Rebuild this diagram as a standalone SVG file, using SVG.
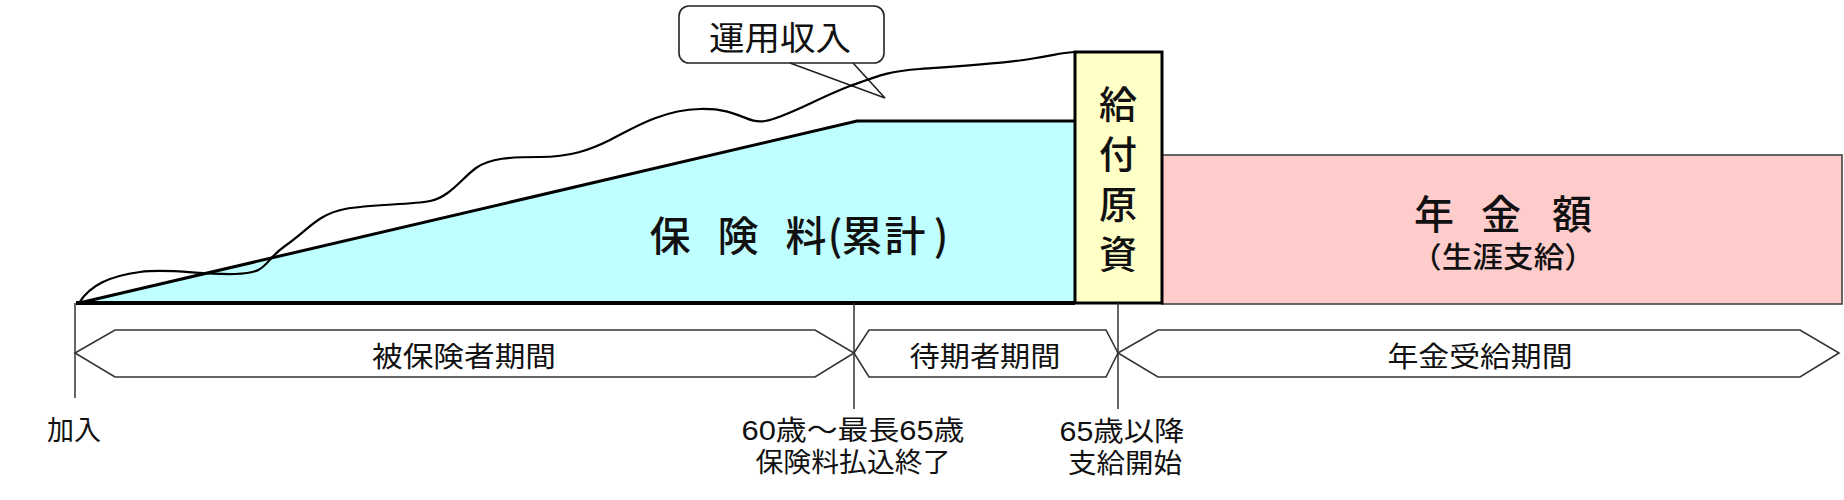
<svg xmlns="http://www.w3.org/2000/svg" width="1844" height="500" viewBox="0 0 1844 500">
<style>
.t{font-family:"Noto Sans CJK JP","Noto Sans",sans-serif;fill:#111;text-anchor:middle;dominant-baseline:central}
.c{font-family:"Liberation Sans","Noto Sans CJK JP",sans-serif}
.m{font-weight:500}
.band{fill:#fff;stroke:#333;stroke-width:1.6}
.tick{stroke:#333;stroke-width:1.5;fill:none}
</style>
<rect width="1844" height="500" fill="#fff"/>
<g id="premium">
<path d="M79,303 L857,121 L1075,121 L1075,303 Z" fill="#BFFFFF"/>
<path d="M79,303 L857,121 L1075,121" fill="none" stroke="#000" stroke-width="3"/>
<text class="t m" font-size="41" y="233"><tspan x="670">保</tspan><tspan x="738">険</tspan><tspan x="806">料</tspan><tspan x="835">(</tspan><tspan x="862">累</tspan><tspan x="905">計</tspan><tspan x="941">)</tspan></text>
</g>
<g id="pension">
<rect x="1162" y="155" width="680" height="149" fill="#FFCCCC" stroke="#444" stroke-width="1.6"/>
<text class="t c m" font-size="40" y="215"><tspan x="1434">年</tspan><tspan x="1501">金</tspan><tspan x="1572">額</tspan></text>
<text class="t c m" font-size="29" x="1503" y="258" textLength="184" lengthAdjust="spacingAndGlyphs">（生涯支給）</text>
</g>
<g id="fund">
<rect x="1075" y="52" width="87" height="251" fill="#FFFFC8" stroke="#000" stroke-width="3"/>
<text class="t m" font-size="38" x="1118" y="185" writing-mode="vertical-rl" letter-spacing="12">給付原資</text>
</g>
<g id="baseline">
<line x1="76" y1="303" x2="1075" y2="303" stroke="#000" stroke-width="4"/>
</g>
<g id="callout">
<rect x="679" y="6" width="205" height="57" rx="10" fill="#fff" stroke="#222" stroke-width="1.6"/>
<text class="t" font-size="33" x="780" y="36" textLength="142" lengthAdjust="spacingAndGlyphs">運用収入</text>
</g>
<g id="connectors" fill="none">
<path d="M790,63 L885,98 L853,63" stroke="#222" stroke-width="1.6"/>
<path id="return-curve" d="M79,303 C90,285 110,276 140,272 S200,275 235,274 S262,262 285,246 S318,214 345,209 S410,205 430,201 S462,178 476,168 S510,157 540,157 S590,150 610,140 S660,110 700,109 S745,124 765,121 S820,97 850,86 S890,71 920,69 S1000,64 1030,59 S1060,53 1074,52" stroke="#000" stroke-width="2.2"/>
<line class="tick" x1="75" y1="303" x2="75" y2="398"/>
<line class="tick" x1="854" y1="303" x2="854" y2="409"/>
<line class="tick" x1="1118" y1="303" x2="1118" y2="409"/>
</g>
<g id="period-insured">
<path class="band" d="M75,353 L115,330 L815,330 L854,353 L815,377 L115,377 Z"/>
<text class="t" font-size="28" x="464" y="355" textLength="184" lengthAdjust="spacingAndGlyphs">被保険者期間</text>
</g>
<g id="period-waiting">
<path class="band" d="M854,353 L869,330 L1106,330 L1118,353 L1106,377 L869,377 Z"/>
<text class="t" font-size="28" x="985" y="355" textLength="151" lengthAdjust="spacingAndGlyphs">待期者期間</text>
</g>
<g id="period-receiving">
<path class="band" d="M1118,353 L1158,330 L1800,330 L1839,353 L1800,377 L1158,377 Z"/>
<text class="t" font-size="28" x="1480" y="355" textLength="185" lengthAdjust="spacingAndGlyphs">年金受給期間</text>
</g>
<g id="label-join">
<text class="t" font-size="27" x="74" y="428" textLength="54" lengthAdjust="spacingAndGlyphs">加入</text>
</g>
<g id="label-60">
<text class="t c" font-size="27"><tspan x="853" y="431" textLength="223" lengthAdjust="spacingAndGlyphs">60歳〜最長65歳</tspan><tspan x="853" y="463" textLength="195" lengthAdjust="spacingAndGlyphs">保険料払込終了</tspan></text>
</g>
<g id="label-65">
<text class="t c" font-size="27"><tspan x="1122" y="432" textLength="125" lengthAdjust="spacingAndGlyphs">65歳以降</tspan><tspan x="1125" y="464" textLength="114" lengthAdjust="spacingAndGlyphs">支給開始</tspan></text>
</g>
</svg>
